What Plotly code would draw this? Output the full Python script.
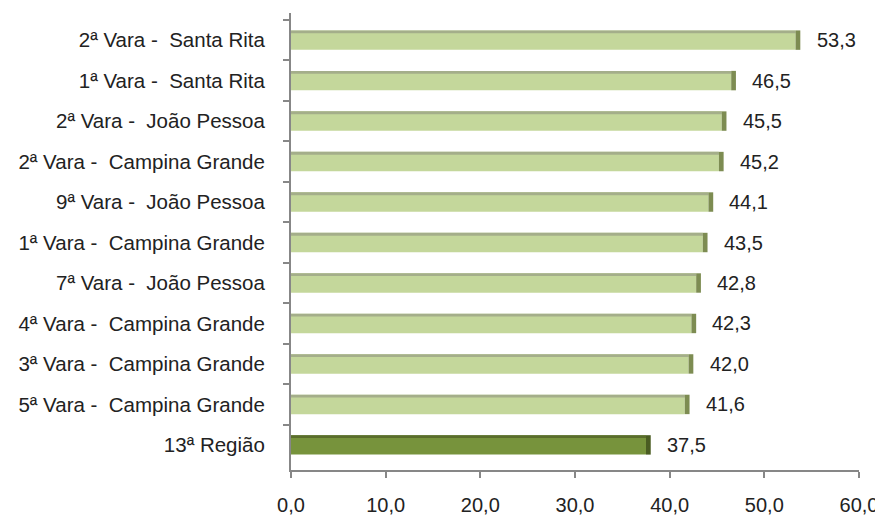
import plotly.graph_objects as go

categories = [
    "2ª Vara -  Santa Rita",
    "1ª Vara -  Santa Rita",
    "2ª Vara -  João Pessoa",
    "2ª Vara -  Campina Grande",
    "9ª Vara -  João Pessoa",
    "1ª Vara -  Campina Grande",
    "7ª Vara -  João Pessoa",
    "4ª Vara -  Campina Grande",
    "3ª Vara -  Campina Grande",
    "5ª Vara -  Campina Grande",
    "13ª Região",
]
values = [53.3, 46.5, 45.5, 45.2, 44.1, 43.5, 42.8, 42.3, 42.0, 41.6, 37.5]
x_ticks = [0, 10, 20, 30, 40, 50, 60]

light = "#c4d79b"
light_top = "#a4ae8a"
light_cap = "#7d8c52"
dark = "#77933c"
dark_top = "#5a6d2c"
dark_cap = "#4a5c22"

is_total = [c == "13ª Região" for c in categories]
face_colors = [dark if t else light for t in is_total]
top_colors = [dark_top if t else light_top for t in is_total]
cap_colors = [dark_cap if t else light_cap for t in is_total]

FONT = "Liberation Sans, Arial, sans-serif"
FS_CAT = 20.5
FS_NUM = 20
BW = 0.48
CAP = 0.5

fig = go.Figure()
# front face
fig.add_trace(go.Bar(
    y=categories, x=values, orientation="h",
    width=BW, offset=-BW / 2,
    marker=dict(color=face_colors, line=dict(width=0)),
    hoverinfo="skip",
))
# top strip (3D look)
fig.add_trace(go.Bar(
    y=categories, x=values, orientation="h",
    width=0.07, offset=-BW / 2,
    marker=dict(color=top_colors, line=dict(width=0)),
    hoverinfo="skip",
))
# end cap (3D look)
fig.add_trace(go.Bar(
    y=categories, x=[CAP] * len(values), base=values, orientation="h",
    width=BW, offset=-BW / 2,
    marker=dict(color=cap_colors, line=dict(width=0)),
    hoverinfo="skip",
))

for c, v in zip(categories, values):
    fig.add_annotation(
        x=v, y=c, xref="x", yref="y",
        text=f"{v:.1f}".replace(".", ","),
        showarrow=False, xanchor="left", xshift=19,
        font=dict(family=FONT, size=FS_NUM, color="#222222"),
    )

axis_grey = "#878787"
# the page body adds an 8px margin, so the figure is sized 8px smaller
fig.update_layout(
    width=875, height=509,
    margin=dict(l=283, r=24, t=5, b=47, autoexpand=False),
    paper_bgcolor="white", plot_bgcolor="white",
    barmode="overlay",
    showlegend=False,
    separators=",.",
    font=dict(family=FONT, size=FS_NUM, color="#222222"),
    xaxis=dict(
        range=[0, 60], tickvals=x_ticks, tickformat=".1f",
        showgrid=False, zeroline=False, automargin=False,
        showline=True, linecolor=axis_grey, linewidth=2,
        ticks="outside", ticklen=6, tickcolor=axis_grey, tickwidth=2,
        ticklabelstandoff=10,
        tickfont=dict(family=FONT, size=FS_NUM, color="#222222"),
    ),
    yaxis=dict(
        type="category", categoryorder="array", categoryarray=categories,
        range=[10.62, -0.67], automargin=False,
        showgrid=False, zeroline=False,
        showline=True, linecolor=axis_grey, linewidth=2,
        ticks="outside", ticklen=6, tickcolor=axis_grey, tickwidth=2,
        tickson="boundaries",
        ticklabelstandoff=20,
        tickfont=dict(family=FONT, size=FS_CAT, color="#222222"),
    ),
)

fig.write_html("out.html")
